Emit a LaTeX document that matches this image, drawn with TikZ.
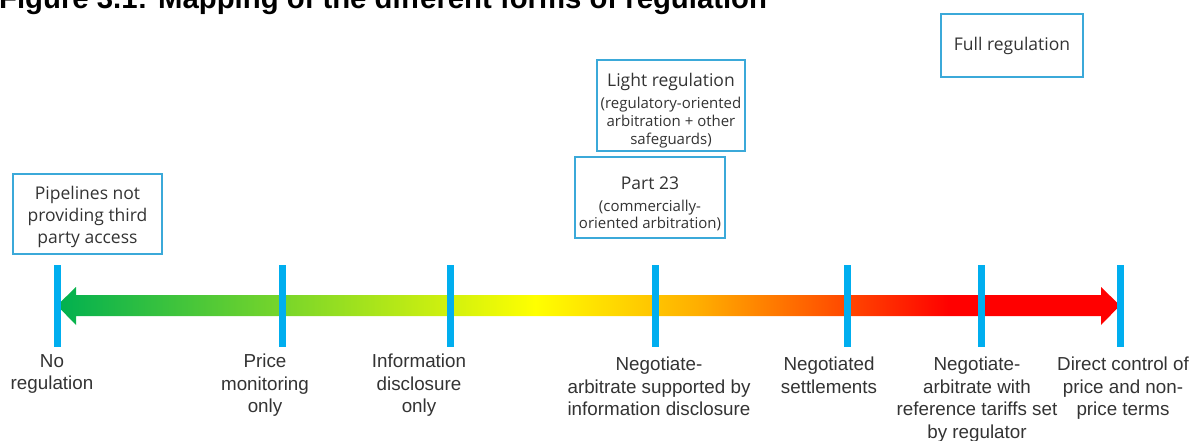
\documentclass[tikz,border=0pt]{standalone}
\usepackage{fontspec}
\setmainfont{Liberation Sans}
\newfontfamily\boxfamily{Open Sans}

\definecolor{tickblue}{HTML}{00AEEF}
\definecolor{boxblue}{HTML}{3BA9D9}
\definecolor{labelgray}{HTML}{333333}
\definecolor{regstart}{RGB}{0,176,80}
\definecolor{regorange}{RGB}{255,176,0}

% green -> yellow -> orange -> red along the scale
\pgfdeclarehorizontalshading{regshade}{100bp}{color(0bp)=(regstart); color(25bp)=(regstart);
  color(47.5bp)=(yellow); color(55bp)=(regorange); color(67bp)=(red); color(100bp)=(red)}

\newcommand{\subtext}{\fontsize{15}{18}\selectfont}
\newcommand{\toppad}[1]{\rule{0pt}{#1}}

\tikzset{
  regbox/.style={draw=boxblue, line width=2pt, align=center, text=labelgray,
    font=\boxfamily\fontsize{17.5}{22}\selectfont, inner sep=0pt},
  steplabel/.style={anchor=north, align=center, text=labelgray, inner sep=0pt,
    font=\fontsize{18.8}{22.5}\selectfont},
  stepmark/.style={draw=tickblue, line width=7pt}
}

\begin{document}
\begin{tikzpicture}[x=1pt, y=-1pt]
    \useasboundingbox (0,0) rectangle (1192,441);

    % Title, cut off at the top
    \node[anchor=base west, inner sep=0pt, font=\bfseries\fontsize{29.3}{30}\selectfont] (title) at (-1,9)
        {Figure 3.1: Mapping of the different forms of regulation};

    % Draw the double arrow with the colour scale
    \shade[shading=regshade] (57,305.5) -- (76,287) -- (76,295) -- (1101,295) -- (1101,287)
        -- (1120,305.5) -- (1101,325) -- (1101,316) -- (76,316) -- (76,325) -- cycle;

    % Draw the marks on the scale
    \foreach \x/\name in {57/none, 282/price, 450/info, 655/negsup, 847/negset, 981/negref, 1120/direct} {
        \coordinate (top-\name) at (\x,265);
        \coordinate (bot-\name) at (\x,347);
        \draw[stepmark] (top-\name) -- (bot-\name);
    }

    % Label the marks
    \node[steplabel] (none) at (52,354) {No\\regulation};
    \node[steplabel] (price) at (265,354) {Price\\monitoring\\only};
    \node[steplabel] (info) at (419,354) {Information\\disclosure\\only};
    \node[steplabel] (negsup) at (659,357) {Negotiate-\\arbitrate supported by\\information disclosure};
    \node[steplabel] (negset) at (829,357) {Negotiated\\settlements};
    \node[steplabel] (negref) at (977,357) {Negotiate-\\arbitrate with\\reference tariffs set\\by regulator};
    \node[steplabel] (direct) at (1123,357) {Direct control of\\price and non-\\price terms};

    % Forms of regulation above the scale
    \node[regbox, minimum width=149pt, minimum height=80pt] (pipes) at (87.5,214)
        {\toppad{19.3pt}Pipelines not\\providing third\\party access};
    \node[regbox, minimum width=150pt, minimum height=81pt] (part23) at (650,197.5)
        {\toppad{24.5pt}Part 23\\[0pt] \subtext (commercially-\\[-5pt] \subtext oriented arbitration)};
    \node[regbox, minimum width=148pt, minimum height=91pt] (light) at (671,105.5)
        {\toppad{24.3pt}Light regulation\\[0pt] \subtext (regulatory-oriented\\[-4pt] \subtext arbitration + other\\[-4pt] \subtext safeguards)};
    \node[regbox, minimum width=142pt, minimum height=63pt] (full) at (1012,45.5)
        {Full regulation};

\end{tikzpicture}
\end{document}
